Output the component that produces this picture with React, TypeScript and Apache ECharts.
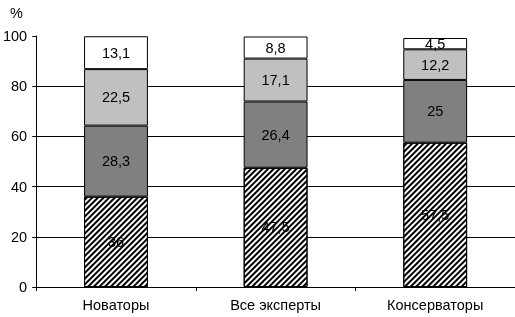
import React, { useEffect, useRef } from "react";
import * as echarts from "echarts";

const categories = ["Новаторы", "Все эксперты", "Консерваторы"];
const seriesNames = ["s1", "s2", "s3", "s4"];
const s1 = [36, 47.5, 57.5];
const s2 = [28.3, 26.4, 25];
const s3 = [22.5, 17.1, 12.2];
const s4 = [13.1, 8.8, 4.5];
const yTicks = { min: 0, max: 100, interval: 20 };

const FONT = "Liberation Sans, Arial, sans-serif";
const FS = 14.5;

export default function App() {
  const ref = useRef<HTMLDivElement>(null);
  useEffect(() => {
    if (!ref.current) return;
    const chart = echarts.init(ref.current, null, { renderer: "svg" });
    const label = {
      show: true,
      position: "inside",
      color: "#000",
      fontSize: FS,
      fontFamily: FONT,
      formatter: (p: any) => String(p.value).replace(".", ","),
    };
    const border = { borderColor: "#000", borderWidth: 1 };
    const mk = (name: string, data: number[], itemStyle: any) => ({
      name,
      type: "bar",
      stack: "total",
      barWidth: "40%",
      data,
      label,
      itemStyle: { ...border, ...itemStyle },
    });
    chart.setOption({
      animation: false,
      textStyle: { fontFamily: FONT },
      title: {
        text: "%",
        left: 5,
        top: 0,
        textStyle: { fontSize: FS, fontWeight: "normal", color: "#000", fontFamily: FONT },
      },
      grid: { left: 35, top: 36, right: 0, bottom: 30, containLabel: false },
      xAxis: {
        type: "category",
        data: categories,
        boundaryGap: true,
        axisLine: { lineStyle: { color: "#000", width: 1 } },
        axisTick: { show: true, length: 4, lineStyle: { color: "#000" } },
        axisLabel: { color: "#000", fontSize: FS, fontFamily: FONT, margin: 10 },
      },
      yAxis: {
        type: "value",
        min: yTicks.min,
        max: yTicks.max,
        interval: yTicks.interval,
        axisLine: { show: true, lineStyle: { color: "#000", width: 1 } },
        axisTick: { show: true, length: 4, lineStyle: { color: "#000" } },
        axisLabel: { color: "#000", fontSize: FS, fontFamily: FONT, margin: 9 },
        splitLine: {
          show: true,
          lineStyle: {
            color: ["#000", "#000", "#000", "#000", "#000", "rgba(0,0,0,0)"],
            width: 1,
          },
        },
      },
      series: [
        mk(seriesNames[0], s1, {
          color: "#fff",
          decal: {
            symbol: "rect",
            symbolSize: 1,
            color: "#000",
            dashArrayX: [1, 0],
            dashArrayY: [1.1, 1.7],
            rotation: -Math.PI / 4,
          },
        }),
        mk(seriesNames[1], s2, { color: "#808080" }),
        mk(seriesNames[2], s3, { color: "#c0c0c0" }),
        mk(seriesNames[3], s4, { color: "#fff" }),
      ],
    });
    return () => chart.dispose();
  }, []);
  return (
    <div
      ref={ref}
      style={{ position: "fixed", left: 0, top: 0, width: 515, height: 317 }}
    />
  );
}
